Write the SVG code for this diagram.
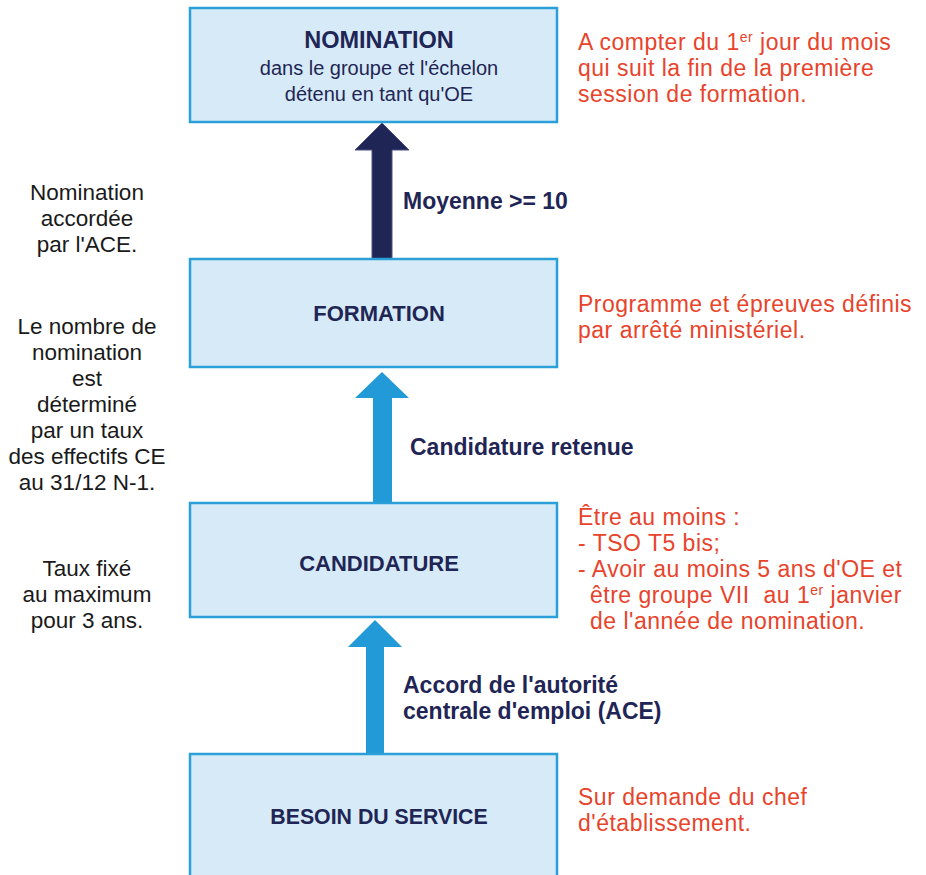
<svg xmlns="http://www.w3.org/2000/svg" width="926" height="875" viewBox="0 0 926 875">
<style>
.box{fill:#d6ebf7;stroke:#2a9fd8;stroke-width:2.5}
.title{font-family:"Liberation Sans",Arial,sans-serif;font-weight:bold;font-size:22px;fill:#1f2555;text-anchor:middle}
.sub{font-family:"Liberation Sans",Arial,sans-serif;font-size:20px;fill:#1f2555;text-anchor:middle}
.lbl{font-family:"Liberation Sans",Arial,sans-serif;font-weight:bold;font-size:23px;fill:#1f2555}
.red{font-family:"Liberation Sans",Arial,sans-serif;font-size:23px;letter-spacing:0.5px;fill:#e8432b}
.left{font-family:"Liberation Sans",Arial,sans-serif;font-size:22.5px;fill:#1a1a1a;text-anchor:middle}
.sup{font-size:14px}
</style>
<rect width="926" height="875" fill="#ffffff"/>
<g id="connectors">
<polygon points="382,123 409,150 392,150 392,259 372,259 372,150 355,150" fill="#1f2555" stroke="#4a5080" stroke-width="1"/>
<polygon points="382,372 409,398 392,398 392,503 373,503 373,398 355,398" fill="#219ad7"/>
<polygon points="375,620 402,647 384,647 384,754 366,754 366,647 348,647" fill="#219ad7"/>
<text class="lbl" x="403" y="209">Moyenne &gt;= 10</text>
<text class="lbl" x="410" y="455">Candidature retenue</text>
<text class="lbl" x="403" y="693">Accord de l'autorité</text>
<text class="lbl" x="403" y="719">centrale d'emploi (ACE)</text>
</g>
<g id="nomination">
<rect class="box" x="190" y="8" width="367" height="114"/>
<text class="title" x="379" y="48" style="font-size:23.5px">NOMINATION</text>
<text class="sub" x="379" y="75">dans le groupe et l'échelon</text>
<text class="sub" x="379" y="101">détenu en tant qu'OE</text>
</g>
<g id="formation">
<rect class="box" x="190" y="259" width="367" height="108"/>
<text class="title" x="379" y="321">FORMATION</text>
</g>
<g id="candidature">
<rect class="box" x="190" y="503" width="367" height="114"/>
<text class="title" x="379" y="571">CANDIDATURE</text>
</g>
<g id="besoin">
<rect class="box" x="190" y="754" width="367" height="130"/>
<text class="title" x="379" y="824" style="font-size:21.3px">BESOIN DU SERVICE</text>
</g>
<g id="notes-right">
<text class="red" x="578" y="50">A compter du 1<tspan class="sup" dy="-8">er</tspan><tspan dy="8"> jour du mois</tspan></text>
<text class="red" x="578" y="76">qui suit la fin de la première</text>
<text class="red" x="578" y="102">session de formation.</text>
<text class="red" x="578" y="312">Programme et épreuves définis</text>
<text class="red" x="578" y="338">par arrêté ministériel.</text>
<text class="red" x="578" y="525">Être au moins :</text>
<text class="red" x="578" y="551">- TSO T5 bis;</text>
<text class="red" x="578" y="577">- Avoir au moins 5 ans d'OE et</text>
<text class="red" x="590" y="603" xml:space="preserve">être groupe VII  au 1<tspan class="sup" dy="-8">er</tspan><tspan dy="8"> janvier</tspan></text>
<text class="red" x="590" y="629">de l'année de nomination.</text>
<text class="red" x="578" y="805">Sur demande du chef</text>
<text class="red" x="578" y="831">d'établissement.</text>
</g>
<g id="notes-left">
<text class="left" x="87" y="200">Nomination</text>
<text class="left" x="87" y="226">accordée</text>
<text class="left" x="87" y="252">par l'ACE.</text>
<text class="left" x="87" y="334">Le nombre de</text>
<text class="left" x="87" y="360">nomination</text>
<text class="left" x="87" y="386">est</text>
<text class="left" x="87" y="412">déterminé</text>
<text class="left" x="87" y="438">par un taux</text>
<text class="left" x="87" y="464">des effectifs CE</text>
<text class="left" x="87" y="490">au 31/12 N-1.</text>
<text class="left" x="87" y="576">Taux fixé</text>
<text class="left" x="87" y="602">au maximum</text>
<text class="left" x="87" y="628">pour 3 ans.</text>
</g>
</svg>
